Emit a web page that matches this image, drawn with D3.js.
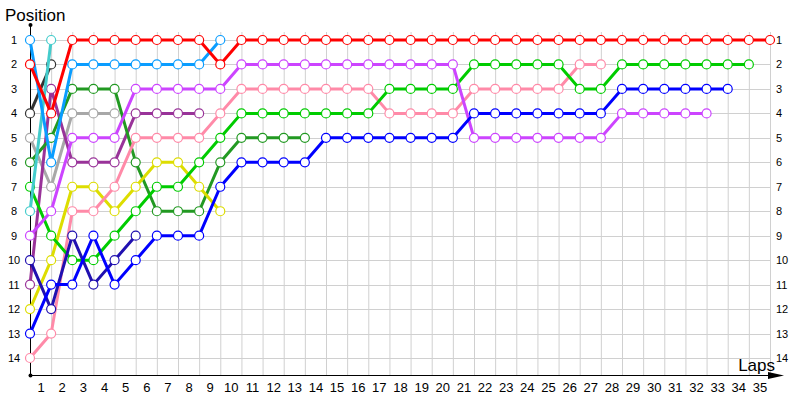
<!DOCTYPE html>
<html>
<head>
<meta charset="utf-8">
<script src="https://cdn.jsdelivr.net/npm/d3@7"></script>
<style>
    body { margin: 0; background: #fff; }
    svg { font-family: Tahoma, "Liberation Sans", Arial, sans-serif; }
    .grid line { stroke: #d0d0d0; stroke-width: 1; }
    .series path { fill: none; stroke-width: 3; stroke-linejoin: round; }
    .series circle { fill: #fff; stroke-width: 1.2; }
</style>
</head>
<body>
<svg id="chart" width="800" height="400"></svg>
<script>
// positions per lap, starting at lap 0 (start grid)
var red         = [2, 4, 1, 1, 1, 1, 1, 1, 1, 2, 1, 1, 1, 1, 1, 1, 1, 1, 1, 1, 1, 1, 1, 1, 1, 1, 1, 1, 1, 1, 1, 1, 1, 1, 1, 1];
var skyBlue     = [1, 6, 2, 2, 2, 2, 2, 2, 2, 1];
var turquoise   = [8, 1];
var darkGray    = [4, 2];
var lightGray   = [5, 7, 4, 4, 4];
var forestGreen = [6, 5, 3, 3, 3, 6, 8, 8, 8, 6, 5, 5, 5, 5];
var green       = [7, 9, 10, 10, 9, 8, 7, 7, 6, 5, 4, 4, 4, 4, 4, 4, 4, 3, 3, 3, 3, 2, 2, 2, 2, 2, 3, 3, 2, 2, 2, 2, 2, 2, 2];
var pink        = [14, 13, 8, 8, 7, 5, 5, 5, 5, 4, 3, 3, 3, 3, 3, 3, 3, 4, 4, 4, 4, 3, 3, 3, 3, 3, 2, 2];
var violet      = [9, 8, 5, 5, 5, 3, 3, 3, 3, 3, 2, 2, 2, 2, 2, 2, 2, 2, 2, 2, 2, 5, 5, 5, 5, 5, 5, 5, 4, 4, 4, 4, 4];
var yellow      = [12, 10, 7, 7, 8, 7, 6, 6, 7, 8];
var indigo      = [10, 12, 9, 11, 10, 9];
var purple      = [11, 3, 6, 6, 6, 4, 4, 4, 4];
var blue        = [13, 11, 11, 9, 11, 10, 9, 9, 9, 7, 6, 6, 6, 6, 5, 5, 5, 5, 5, 5, 5, 4, 4, 4, 4, 4, 4, 4, 3, 3, 3, 3, 3, 3];

var lapTicks = d3.range(1, 36);
var positionTicks = d3.range(1, 15);

var series = [
    {color: '#a8a8a8', values: lightGray},
    {color: '#333333', values: darkGray},
    {color: '#993399', values: purple},
    {color: '#229922', values: forestGreen},
    {color: '#dddd00', values: yellow},
    {color: '#ff8aa8', values: pink},
    {color: '#00cc00', values: green},
    {color: '#cc44ff', values: violet},
    {color: '#2010b0', values: indigo},
    {color: '#0000ff', values: blue},
    {color: '#44cccc', values: turquoise},
    {color: '#0a9dff', values: skyBlue},
    {color: '#ff0000', values: red}
];

var svg = d3.select('#chart');

var x = d3.scaleLinear().domain([0, 35]).range([30, 770]);
var y = d3.scaleLinear().domain([1, 14]).range([40, 358]);

var originY = 375;

// grid
var grid = svg.append('g').classed('grid', true);

grid.selectAll('line.v')
    .data(lapTicks)
    .enter()
    .append('line')
    .attr('class', 'v')
    .attr('x1', d => x(d) + 0.5)
    .attr('x2', d => x(d) + 0.5)
    .attr('y1', 32)
    .attr('y2', originY);

grid.selectAll('line.h')
    .data(positionTicks)
    .enter()
    .append('line')
    .attr('class', 'h')
    .attr('x1', x(0))
    .attr('x2', x(35))
    .attr('y1', d => Math.round(y(d)) + 0.5)
    .attr('y2', d => Math.round(y(d)) + 0.5);

// axes
var xAxis = d3.axisBottom(x)
    .tickValues(lapTicks.map(d => d - 0.5))
    .tickFormat(d => d + 0.5)
    .tickSize(0)
    .tickPadding(8);

var gX = svg.append('g')
    .attr('transform', 'translate(0,' + originY + ')')
    .call(xAxis);
gX.select('.domain').remove();
gX.selectAll('text').attr('font-size', 13).attr('font-family', null).attr('fill', '#000');

var yLeft = d3.axisLeft(y).tickValues(positionTicks).tickSize(0).tickPadding(10);
var gYL = svg.append('g')
    .attr('transform', 'translate(' + x(0) + ',0)')
    .call(yLeft);
gYL.select('.domain').remove();
gYL.selectAll('text').attr('font-size', 11).attr('font-family', null)
    .attr('text-anchor', 'middle').attr('x', -16).attr('fill', '#000');

var yRight = d3.axisRight(y).tickValues(positionTicks).tickSize(0).tickPadding(6);
var gYR = svg.append('g')
    .attr('transform', 'translate(' + x(35) + ',0)')
    .call(yRight);
gYR.select('.domain').remove();
gYR.selectAll('text').attr('font-size', 11).attr('font-family', null).attr('fill', '#000');

svg.append('line')
    .attr('x1', x(0) + 0.5).attr('x2', x(0) + 0.5)
    .attr('y1', 25).attr('y2', originY)
    .attr('stroke', '#000');

svg.append('line')
    .attr('x1', x(0)).attr('x2', 776)
    .attr('y1', originY + 0.5).attr('y2', originY + 0.5)
    .attr('stroke', '#000');

svg.append('path')
    .attr('d', 'M768,372 L784,375.5 L768,379 Z')
    .attr('fill', '#000');

svg.append('circle').attr('cx', x(0) + 0.5).attr('cy', 25).attr('r', 2).attr('fill', '#000');
svg.append('circle').attr('cx', x(0) + 0.5).attr('cy', originY + 0.5).attr('r', 2).attr('fill', '#000');

svg.append('text')
    .attr('x', 5).attr('y', 21)
    .attr('font-size', 17)
    .text('Position');

svg.append('text')
    .attr('x', 775).attr('y', 371)
    .attr('font-size', 17)
    .attr('text-anchor', 'end')
    .text('Laps');

// series
var line = d3.line()
    .x((d, i) => x(i))
    .y(d => y(d));

var g = svg.selectAll('g.series')
    .data(series)
    .enter()
    .append('g')
    .classed('series', true);

g.append('path')
    .attr('stroke', d => d.color)
    .attr('d', d => line(d.values));

g.selectAll('circle')
    .data(d => d.values.map((v, i) => ({lap: i, pos: v, color: d.color})))
    .enter()
    .append('circle')
    .attr('cx', d => x(d.lap))
    .attr('cy', d => y(d.pos))
    .attr('r', 4.5)
    .attr('stroke', d => d.color);
</script>
</body>
</html>
